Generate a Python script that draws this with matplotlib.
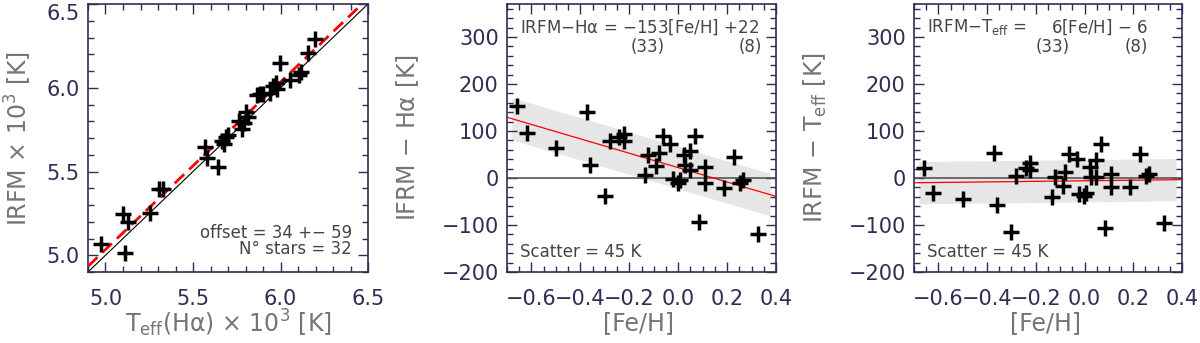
"""
Teff comparison: IRFM vs H-alpha, and residuals vs [Fe/H].
"""

import numpy as np
import matplotlib
matplotlib.use('Agg')
import matplotlib.pyplot as plt
from matplotlib.ticker import MultipleLocator

plt.rcParams['font.family'] = ['DejaVu Sans']
plt.rcParams['mathtext.fontset'] = 'dejavusans'
plt.rcParams['mathtext.default'] = 'regular'

# ---------------------------------------------------------------------------
# Data
# ---------------------------------------------------------------------------

# panel 1: Teff(Halpha) and IRFM, in 10^3 K
teff_ha = [4.972, 5.100, 5.129, 5.113, 5.252, 5.304, 5.329, 5.569, 5.582, 5.645,
           5.668, 5.680, 5.690, 5.702, 5.765, 5.778, 5.790, 5.803, 5.816, 5.866,
           5.880, 5.898, 5.940, 5.955, 5.975, 5.980, 5.997, 6.054, 6.105, 6.115,
           6.159, 6.197]
irfm = [5.067, 5.246, 5.200, 5.015, 5.250, 5.394, 5.394, 5.648, 5.579, 5.525,
        5.680, 5.665, 5.705, 5.720, 5.803, 5.752, 5.790, 5.857, 5.827, 5.957,
        5.965, 5.960, 5.967, 6.010, 6.030, 5.990, 6.146, 6.046, 6.075, 6.095,
        6.206, 6.289]

# panels 2 and 3: [Fe/H] and residuals in K
feh = [-0.660, -0.620, -0.500, -0.372, -0.361, -0.300, -0.280, -0.242, -0.222, -0.222,
       -0.134, -0.123, -0.089, -0.080, -0.064, -0.032, -0.021, -0.001, 0.006, 0.022,
       0.027, 0.047, 0.047, 0.067, 0.085, 0.108, 0.108, 0.186, 0.227, 0.254,
       0.265, 0.326]
d_ha = [153, 96, 63, 140, 28, -38, 79, 87, 94, 79,
        6, 49, 26, 54, 89, 72, -3, -11, -4, 49,
        28, 58, 18, 89, -93, 23, -10, -22, 44, -10,
        -4, -119]
d_teff = [22, -31, -45, 54, -57, -114, 5, 21, 31, 17,
          -41, 1, -18, 13, 52, 40, -35, -38, -32, 24,
          2, 38, 2, 72, -106, 8, -19, -20, 52, 5,
          9, -95]

offset_k = 34          # red dashed line in panel 1
fit_ha = (-153, 22)    # slope, intercept
fit_teff = (6, -6)
scatter = 45
band_x = [-0.68, 0.376]

NAVY = '#2e2e55'
LABEL_GRAY = '#757575'
TEXT_GRAY = '#454545'
FS_TXT = 12


def style_axes(ax, xmaj, xmin, ymaj, ymin):
    for sp in ax.spines.values():
        sp.set_color(NAVY)
        sp.set_linewidth(1.2)
    ax.xaxis.set_major_locator(MultipleLocator(xmaj))
    ax.xaxis.set_minor_locator(MultipleLocator(xmin))
    ax.yaxis.set_major_locator(MultipleLocator(ymaj))
    ax.yaxis.set_minor_locator(MultipleLocator(ymin))
    ax.tick_params(which='both', direction='in', top=True, right=True,
                   color=NAVY, labelcolor=NAVY, labelsize=15)
    ax.tick_params(which='major', length=7, width=1)
    ax.tick_params(which='minor', length=4, width=1)
    ax.tick_params(axis='x', pad=12)
    ax.tick_params(axis='y', pad=6)


fig = plt.figure(figsize=(12, 3.43), dpi=100)
ax1 = fig.add_axes([88 / 1200, 71 / 343, 280 / 1200, 268 / 343])
ax2 = fig.add_axes([507 / 1200, 71 / 343, 269 / 1200, 268 / 343])
ax3 = fig.add_axes([914 / 1200, 71 / 343, 268 / 1200, 268 / 343])

# ---------------------------------------------------------------------------
# Panel 1
# ---------------------------------------------------------------------------
lim = np.array([4.9, 6.5])
ax1.plot(lim, lim, color='black', lw=0.8, zorder=2)
ax1.plot(lim, lim + offset_k / 1000., color='red', lw=2, ls=(0, (4.7, 2.5)), zorder=3)
ax1.plot(teff_ha, irfm, '+', color='black', ms=11, mew=2.5, zorder=4)
ax1.set_xlim(*lim)
ax1.set_ylim(*lim)
style_axes(ax1, 0.5, 0.1, 0.5, 0.1)
ax1.set_xlabel(r'T$_{\rm eff}$(H$\alpha$) $\times$ 10$^3$ [K]', fontsize=17,
               color=LABEL_GRAY, va='center')
ax1.set_ylabel(r'IRFM $\times$ 10$^3$ [K]', fontsize=17, color=LABEL_GRAY,
               va='center')
ax1.xaxis.set_label_coords(0.5, -0.19)
ax1.yaxis.set_label_coords(-0.25, 0.5)
fig.canvas.draw()
for t in ax1.get_yticklabels():
    if t.get_text() == '6.5':
        t.set_va('top')
ax1.text(0.943, 0.146, 'offset = 34 +\u2212 59', transform=ax1.transAxes,
         ha='right', va='center', fontsize=FS_TXT, color=TEXT_GRAY)
ax1.text(0.943, 0.085, 'N\u00b0 stars = 32', transform=ax1.transAxes,
         ha='right', va='center', fontsize=FS_TXT, color=TEXT_GRAY)

# ---------------------------------------------------------------------------
# Panels 2 and 3
# ---------------------------------------------------------------------------
panels = [
    (ax2, d_ha, fit_ha, r'IFRM $-$ H$\alpha$ [K]'),
    (ax3, d_teff, fit_teff, r'IRFM $-$ T$_{\rm eff}$ [K]'),
]
xl = np.array([-0.7, 0.4])
bx = np.array(band_x)
for ax, dy, (slope, icpt), ylab in panels:
    ax.fill_between(bx, slope * bx + icpt - scatter, slope * bx + icpt + scatter,
                    color='#e6e6e6', lw=0, zorder=1)
    ax.axhline(0, color='#555555', lw=1.2, zorder=2)
    ax.plot(xl, slope * xl + icpt, color='red', lw=0.9, zorder=3)
    ax.plot(feh, dy, '+', color='black', ms=11, mew=2.5, zorder=4)
    ax.set_xlim(*xl)
    ax.set_ylim(-200, 370)
    style_axes(ax, 0.2, 0.05, 100, 20)
    ax.set_xlabel('[Fe/H]', fontsize=17, color=LABEL_GRAY, va='center')
    ax.set_ylabel(ylab, fontsize=17, color=LABEL_GRAY, va='center')
    ax.xaxis.set_label_coords(0.49, -0.19)
    ax.yaxis.set_label_coords(-0.368, 0.5)
    ax.text(0.05, 0.075, 'Scatter = %d K' % scatter, transform=ax.transAxes,
            ha='left', va='center', fontsize=FS_TXT, color=TEXT_GRAY)

ax2.text(0.05, 0.914, r'IRFM$-$H$\alpha$ = $-$153[Fe/H] +22', transform=ax2.transAxes,
         ha='left', va='center', fontsize=FS_TXT, color=TEXT_GRAY)
ax2.text(0.524, 0.84, '(33)', transform=ax2.transAxes, ha='center', va='center',
         fontsize=FS_TXT, color=TEXT_GRAY)
ax2.text(0.948, 0.84, '(8)', transform=ax2.transAxes, ha='right', va='center',
         fontsize=FS_TXT, color=TEXT_GRAY)

ax3.text(0.05, 0.914, r'IRFM$-$T$_{\rm eff}$ =', transform=ax3.transAxes,
         ha='left', va='center', fontsize=FS_TXT, color=TEXT_GRAY)
ax3.text(0.873, 0.914, r'6[Fe/H] $-$ 6', transform=ax3.transAxes,
         ha='right', va='center', fontsize=FS_TXT, color=TEXT_GRAY)
ax3.text(0.519, 0.84, '(33)', transform=ax3.transAxes, ha='center', va='center',
         fontsize=FS_TXT, color=TEXT_GRAY)
ax3.text(0.873, 0.84, '(8)', transform=ax3.transAxes, ha='right', va='center',
         fontsize=FS_TXT, color=TEXT_GRAY)

fig.savefig('out.png', dpi=100)
print("Saved: out.png")
